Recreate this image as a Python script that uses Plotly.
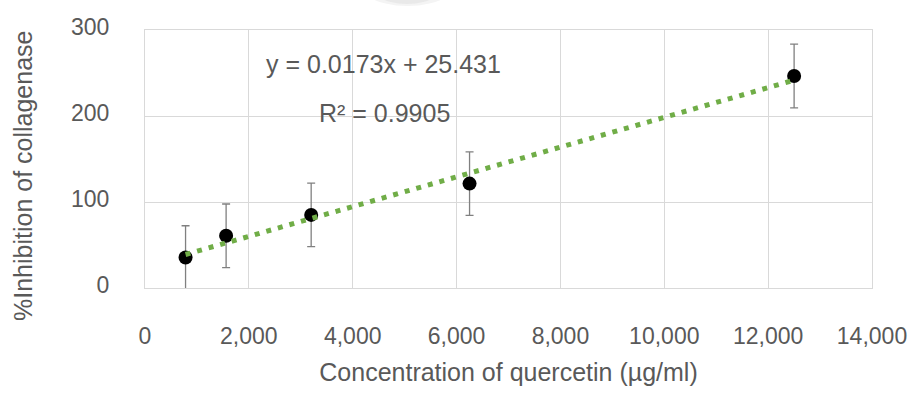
import plotly.graph_objects as go

# Data
concentration = [781, 1562, 3200, 6250, 12500]
inhibition = [35.4, 60.7, 85.0, 121.4, 246.5]
error = [37, 37, 37, 37, 37]
slope = 0.0173
intercept = 25.431
r2 = 0.9905
x_ticks = [0, 2000, 4000, 6000, 8000, 10000, 12000, 14000]
x_ticklabels = ["0", "2,000", "4,000", "6,000", "8,000", "10,000", "12,000", "14,000"]
y_ticks = [0, 100, 200, 300]
y_title = "%Inhibition of collagenase"
x_title = "Concentration of quercetin (µg/ml)"

FONT = "Liberation Sans, Arial, sans-serif"
GRAY = "#595959"
GRID = "#d9d9d9"

trend_x = [min(concentration), max(concentration)]
trend_y = [slope * v + intercept for v in trend_x]

fig = go.Figure()
fig.add_trace(go.Scatter(
    x=concentration, y=inhibition, mode="markers",
    marker=dict(color="black", size=14),
    error_y=dict(type="data", array=error, color="#808080", thickness=1.3, width=4),
    showlegend=False, cliponaxis=True,
))
fig.add_trace(go.Scatter(
    x=trend_x, y=trend_y, mode="lines",
    line=dict(color="#70AD47", width=5, dash="5px,7px"),
    showlegend=False,
))

fig.add_annotation(x=4600, y=261, xref="x", yref="y",
                   text=f"y = {slope}x + {intercept}", showarrow=False,
                   font=dict(family=FONT, size=25, color=GRAY))
fig.add_annotation(x=4620, y=203.5, xref="x", yref="y",
                   text=f"R² = {r2}", showarrow=False,
                   font=dict(family=FONT, size=25, color=GRAY))

# y-axis title placed as rotated annotation (offset like the original)
fig.add_annotation(x=(23 - 145) / 727, y=1 - (176 - 30) / 258, xref="paper", yref="paper",
                   text=y_title, textangle=-90, showarrow=False,
                   xanchor="center", yanchor="middle",
                   font=dict(family=FONT, size=25, color=GRAY))

# faint decorative blob at top
fig.add_shape(type="circle", xref="paper", yref="paper",
              x0=(350 - 145) / 727, x1=(465 - 145) / 727,
              y0=1 + (30 - 6) / 258, y1=1 + (30 + 60) / 258,
              fillcolor="#f4f4f4", line=dict(width=0), layer="below")
fig.add_shape(type="circle", xref="paper", yref="paper",
              x0=(362 - 145) / 727, x1=(452 - 145) / 727,
              y0=1 + (30 - 4) / 258, y1=1 + (30 + 55) / 258,
              fillcolor="#e9e9e9", line=dict(width=0), layer="below")

fig.update_layout(
    width=912, height=394,
    margin=dict(l=145, r=40, t=30, b=106, autoexpand=False),
    paper_bgcolor="white", plot_bgcolor="white",
    font=dict(family=FONT, color=GRAY),
    xaxis=dict(
        range=[0, 14000], tickvals=x_ticks, ticktext=x_ticklabels,
        automargin=False,
        showgrid=True, gridcolor=GRID, gridwidth=1.3,
        zeroline=False, showline=True, linecolor=GRID, linewidth=1.3, mirror=True,
        tickfont=dict(family=FONT, size=23, color=GRAY),
        ticklabelstandoff=27,
        title=dict(text=x_title,
                   font=dict(family=FONT, size=25, color=GRAY), standoff=15),
    ),
    yaxis=dict(
        range=[0, 300], tickvals=y_ticks,
        automargin=False,
        showgrid=True, gridcolor=GRID, gridwidth=1.3,
        zeroline=False, showline=True, linecolor=GRID, linewidth=1.3, mirror=True,
        tickfont=dict(family=FONT, size=23, color=GRAY),
        ticklabelstandoff=30, ticklabelshift=-3,
    ),
)

fig.write_html("out.html")
